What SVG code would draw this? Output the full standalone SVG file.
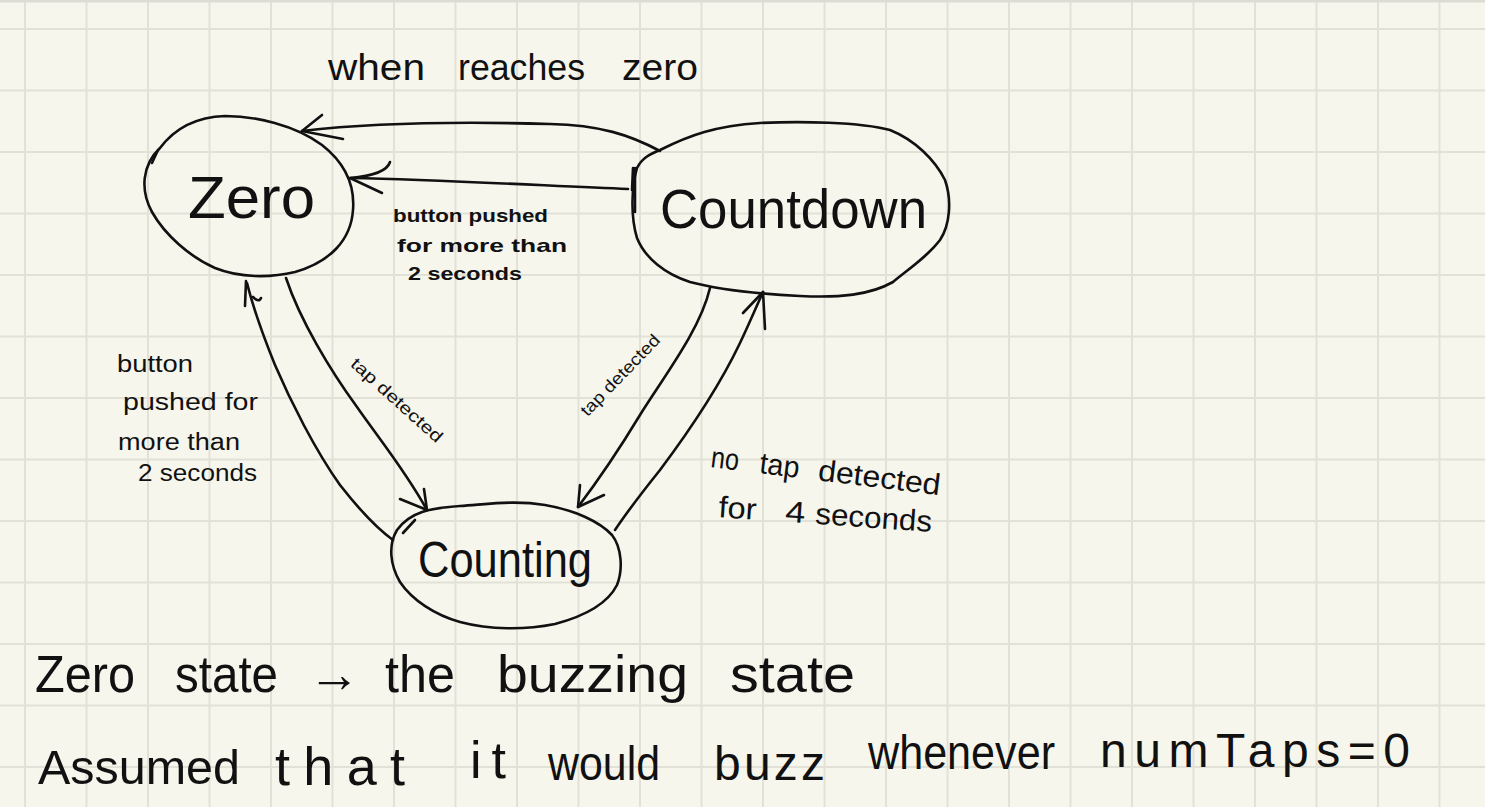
<svg xmlns="http://www.w3.org/2000/svg" width="1485" height="807" viewBox="0 0 1485 807">
<style>
.grid{stroke:#e1e1d7;stroke-width:2;fill:none}
.ink{stroke:#111;stroke-width:2.6;fill:none;stroke-linecap:round;stroke-linejoin:round}
.t{font-family:"Liberation Sans","DejaVu Sans",sans-serif;fill:#111}
.b{font-weight:bold}
</style>
<rect x="0" y="0" width="1485" height="807" fill="#f6f6ed"/>
<path class="grid" d="M25,0V807M86.5,0V807M148,0V807M209.5,0V807M271,0V807M332.5,0V807M394,0V807M455.5,0V807M517,0V807M578.5,0V807M640,0V807M701.5,0V807M763,0V807M824.5,0V807M886,0V807M947.5,0V807M1009,0V807M1070.5,0V807M1132,0V807M1193.5,0V807M1255,0V807M1316.5,0V807M1378,0V807M1439.5,0V807M0,29H1485M0,90.5H1485M0,152H1485M0,213.5H1485M0,275H1485M0,336.5H1485M0,398H1485M0,459.5H1485M0,521H1485M0,582.5H1485M0,644H1485M0,705.5H1485M0,767H1485"/>
<line x1="0" y1="1" x2="1485" y2="1" stroke="#dcdcd4" stroke-width="3"/>

<g id="connectors">
  <g id="e-countdown-zero-top">
    <path class="ink" d="M660,151 C630,135 600,125 550,124 C480,122 380,122 302,131"/>
    <path class="ink" d="M322,115 L302,131 L343,139"/>
  </g>
  <g id="e-countdown-zero-mid">
    <path class="ink" d="M628,189 C550,186 450,180 350,178"/>
    <path class="ink" d="M390,162 Q386,175 350,178 L382,193"/>
  </g>
  <g id="e-zero-counting">
    <path class="ink" d="M286,278 C300,320 330,370 357,407 C380,440 405,470 427,510"/>
    <path class="ink" d="M400,499 L427,510 L424,489"/>
  </g>
  <g id="e-counting-zero">
    <path class="ink" d="M393,540 C375,527 358,508 340,485 C315,450 290,400 275,365 C262,333 253,307 247,283"/>
    <path class="ink" d="M245,306 L246,281 M253,297 Q259,303 261,298"/>
  </g>
  <g id="e-countdown-counting">
    <path class="ink" d="M710,288 C700,330 665,375 640,415 C620,448 600,478 578,507"/>
    <path class="ink" d="M580,485 L578,507 L604,495"/>
  </g>
  <g id="e-counting-countdown">
    <path class="ink" d="M615,530 C625,515 640,495 660,470 C690,430 720,385 740,343 C750,322 757,305 763,292"/>
    <path class="ink" d="M743,313 L763,292 L765,329"/>
  </g>
  <text class="t" font-size="36" y="80"><tspan x="328" textLength="97" lengthAdjust="spacingAndGlyphs">when</tspan><tspan x="458" textLength="127" lengthAdjust="spacingAndGlyphs">reaches</tspan><tspan x="622" textLength="76" lengthAdjust="spacingAndGlyphs">zero</tspan></text>
  <text class="t b" font-size="19"><tspan x="393" y="222" textLength="155" lengthAdjust="spacingAndGlyphs">button pushed</tspan><tspan x="397" y="252" textLength="170" lengthAdjust="spacingAndGlyphs">for more than</tspan><tspan x="408" y="280" textLength="114" lengthAdjust="spacingAndGlyphs">2 seconds</tspan></text>
  <text class="t" font-size="23"><tspan x="117" y="372" textLength="76" lengthAdjust="spacingAndGlyphs">button</tspan><tspan x="123" y="410" textLength="135" lengthAdjust="spacingAndGlyphs">pushed for</tspan><tspan x="118" y="450" textLength="122" lengthAdjust="spacingAndGlyphs">more than</tspan><tspan x="138" y="481" textLength="119" lengthAdjust="spacingAndGlyphs">2 seconds</tspan></text>
  <text class="t" font-size="17" x="397" y="406" text-anchor="middle" textLength="117" lengthAdjust="spacingAndGlyphs" transform="rotate(42 397 400)">tap detected</text>
  <text class="t" font-size="17" x="620" y="381" text-anchor="middle" textLength="106" lengthAdjust="spacingAndGlyphs" transform="rotate(-46 620 375)">tap detected</text>
  <text class="t" font-size="30" transform="rotate(7 710 467)"><tspan x="710" y="467" textLength="28" lengthAdjust="spacingAndGlyphs">no</tspan><tspan x="759" y="467" textLength="40" lengthAdjust="spacingAndGlyphs">tap</tspan><tspan x="818" y="467" textLength="123" lengthAdjust="spacingAndGlyphs">detected</tspan></text>
  <text class="t" font-size="30" transform="rotate(4 718 517)"><tspan x="718" y="517" textLength="38" lengthAdjust="spacingAndGlyphs">for</tspan><tspan x="785" y="517" textLength="20" lengthAdjust="spacingAndGlyphs">4</tspan><tspan x="815" y="517" textLength="117" lengthAdjust="spacingAndGlyphs">seconds</tspan></text>
</g>

<g id="node-zero">
  <path class="ink" d="M160,148 C175,128 195,117 225,116 C255,116 295,125 322,145 C345,163 355,185 353,210 C351,240 330,262 295,272 C270,278 240,278 215,268 C190,257 165,235 152,212 C140,190 142,165 160,148 Z"/>
  <path class="ink" d="M152,163 L158,150"/>
  <text class="t" font-size="60" x="188" y="218" textLength="127" lengthAdjust="spacingAndGlyphs">Zero</text>
</g>

<g id="node-countdown">
  <path class="ink" d="M660,150 C690,135 715,126 760,123 C800,121 860,122 890,130 C915,140 935,160 945,180 C952,200 950,225 940,240 C928,256 910,268 893,282 C870,295 840,298 800,296 C760,294 720,290 690,282 C665,274 645,258 637,238 C630,215 632,185 637,168 C642,158 650,154 660,150 Z"/>
  <path class="ink" d="M632,190 L633,168 M635,168 L635,212"/>
  <text class="t" font-size="56" x="660" y="228" textLength="267" lengthAdjust="spacingAndGlyphs">Countdown</text>
</g>

<g id="node-counting">
  <path class="ink" d="M397,530 C410,512 430,508 460,506 C490,504 515,500 545,505 C575,510 600,522 612,535 C622,548 623,570 617,585 C608,603 585,616 555,624 C525,630 490,630 460,622 C435,615 412,600 400,582 C390,565 388,545 397,530 Z"/>
  <path class="ink" d="M403,533 L415,520"/>
  <text class="t" font-size="50" x="418" y="577" textLength="174" lengthAdjust="spacingAndGlyphs">Counting</text>
</g>

<g id="notes">
  <text class="t" font-size="52" y="692"><tspan x="35" textLength="100" lengthAdjust="spacingAndGlyphs">Zero</tspan><tspan x="175" textLength="103" lengthAdjust="spacingAndGlyphs">state</tspan><tspan x="308" textLength="52" lengthAdjust="spacingAndGlyphs">→</tspan><tspan x="385" textLength="70" lengthAdjust="spacingAndGlyphs">the</tspan><tspan x="497" textLength="191" lengthAdjust="spacingAndGlyphs">buzzing</tspan><tspan x="730" textLength="125" lengthAdjust="spacingAndGlyphs">state</tspan></text>
  <text class="t" font-size="48"><tspan x="38" y="784" textLength="202" lengthAdjust="spacingAndGlyphs">Assumed</tspan><tspan x="275" y="785" font-size="54" textLength="130" lengthAdjust="spacing">that</tspan><tspan x="470" y="778" font-size="52" textLength="36" lengthAdjust="spacing">it</tspan><tspan x="548" y="780" textLength="112" lengthAdjust="spacingAndGlyphs">would</tspan><tspan x="714" y="780" textLength="111" lengthAdjust="spacing">buzz</tspan><tspan x="868" y="769" textLength="187" lengthAdjust="spacingAndGlyphs">whenever</tspan><tspan x="1100" y="767" textLength="310" lengthAdjust="spacing">numTaps=0</tspan></text>
</g>
</svg>
